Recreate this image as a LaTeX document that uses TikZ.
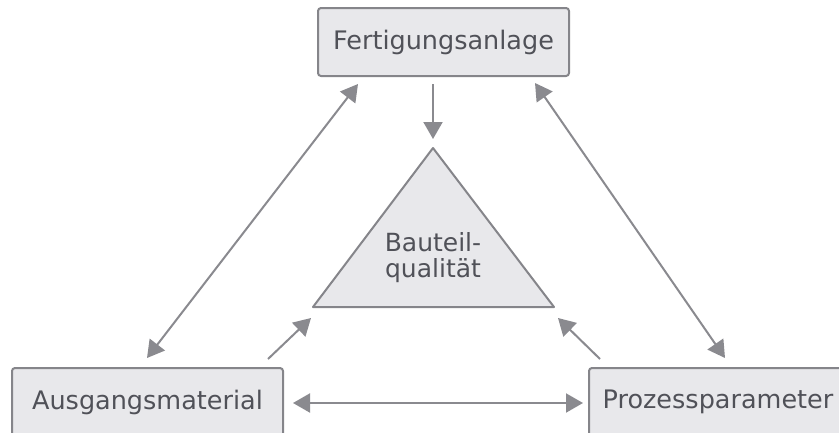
\documentclass[tikz,border=0pt]{standalone}
\usepackage{fontspec}
\setmainfont{DejaVu Sans}
\usetikzlibrary{arrows.meta}
\definecolor{boxfill}{HTML}{E8E8EB}
\definecolor{boxline}{HTML}{85858A}
\definecolor{arrowc}{HTML}{8A8A8F}
\definecolor{txt}{HTML}{505158}
\tikzset{
  box/.style={draw=boxline, fill=boxfill, line width=2pt, rounded corners=3pt,
    minimum height=68pt, inner sep=0pt, text=txt, font=\fontsize{25.5}{30}\selectfont},
  conn/.style={draw=arrowc, line width=2pt, -{Triangle[length=17pt,width=19pt]}},
  dconn/.style={draw=arrowc, line width=2pt, {Triangle[length=17pt,width=19pt]}-{Triangle[length=17pt,width=19pt]}}
}
\begin{document}
\begin{tikzpicture}[x=1pt,y=-1pt]
\useasboundingbox (0,0) rectangle (839,432);
\begin{scope}
\clip (0,0) rectangle (839,432);
\node[box, minimum width=251pt] (fa) at (443.5,42) {Fertigungsanlage};
\node[box, minimum width=271pt] (am) at (147.5,402) {Ausgangsmaterial};
\node[box, minimum width=258pt] (pp) at (718,402) {Prozessparameter};
\coordinate (ta) at (433,148);
\coordinate (tl) at (313,307);
\coordinate (tr) at (554,307);
\draw[draw=boxline, fill=boxfill, line width=2pt, line join=round] (ta) -- (tl) -- (tr) -- cycle;
\node[text=txt, font=\fontsize{25}{26}\selectfont, align=center] (bq) at (433,258) {Bauteil-\\qualität};
% connector end points
\coordinate (a1s) at (433,84);
\coordinate (a1e) at (433,139);
\coordinate (l1) at (358,84);
\coordinate (l2) at (147,358);
\coordinate (r1) at (535,83);
\coordinate (r2) at (725,358);
\coordinate (h1) at (293,403);
\coordinate (h2) at (583,403);
\coordinate (sl1) at (268,359);
\coordinate (sl2) at (311,318);
\coordinate (sr1) at (600,359);
\coordinate (sr2) at (558,318);
\draw[conn] (a1s) -- (a1e);
\draw[dconn] (l1) -- (l2);
\draw[dconn] (r1) -- (r2);
\draw[dconn] (h1) -- (h2);
\draw[conn] (sl1) -- (sl2);
\draw[conn] (sr1) -- (sr2);
\end{scope}
\end{tikzpicture}
\end{document}
